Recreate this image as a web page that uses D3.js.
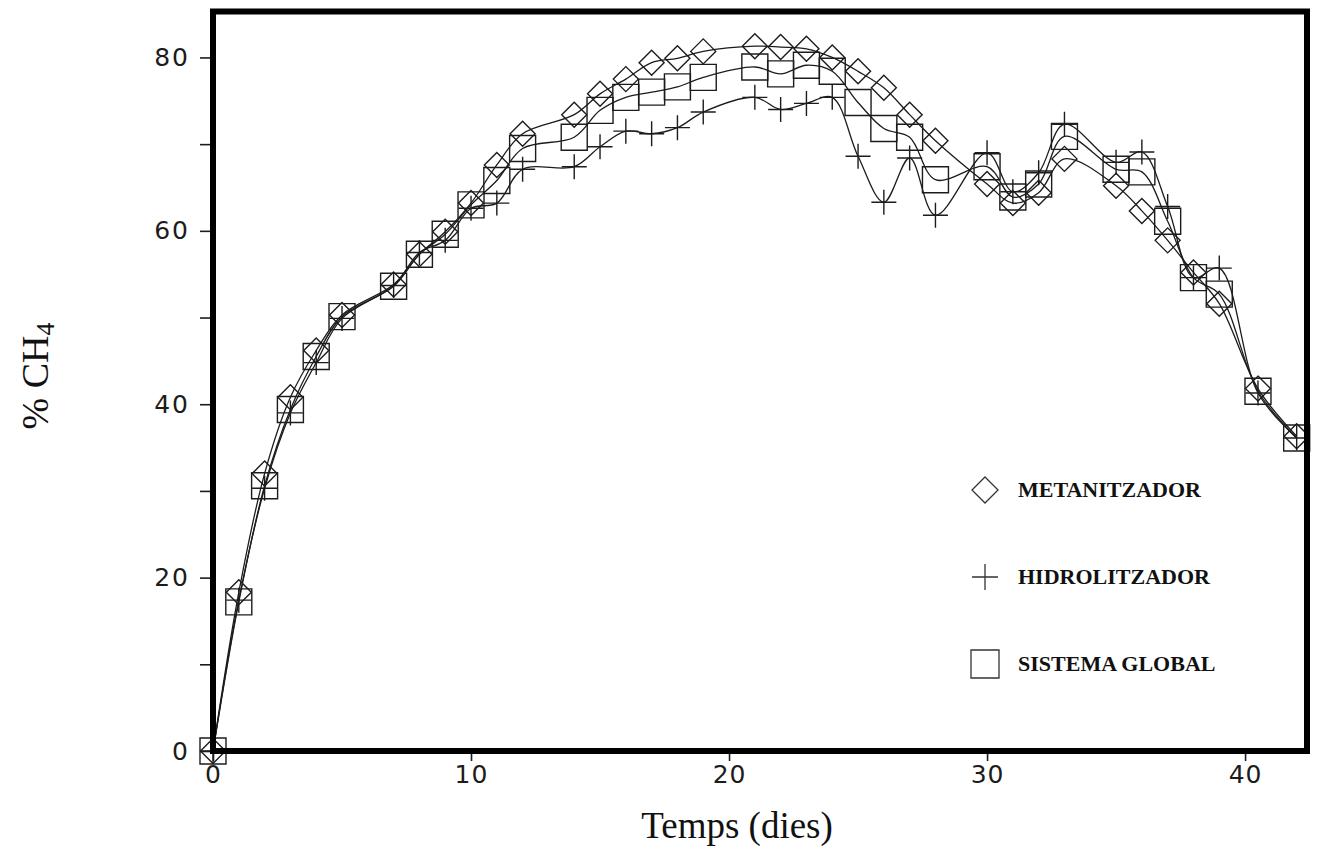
<!DOCTYPE html>
<html>
<head>
<meta charset="utf-8">
<script src="https://cdn.jsdelivr.net/npm/d3@7"></script>
<style>
  html, body { margin: 0; padding: 0; background: #ffffff; }
  svg { display: block; }
</style>
</head>
<body>
<svg id="chart" width="1322" height="856"></svg>
<script>
// ---- data ----
const days = [0, 1, 2, 3, 4, 5, 7, 8, 9, 10, 11, 12, 14, 15, 16, 17, 18, 19, 21, 22, 23, 24, 25, 26, 27, 28, 30, 31, 32, 33, 35, 36, 37, 38, 39, 40.5, 42];

const metanitzador = [0, 18.3, 32.0, 40.8, 46.2, 50.3, 53.8, 57.3, 59.9, 63.2, 67.6, 71.2, 73.4, 75.8, 77.5, 79.4, 79.9, 80.7, 81.3, 81.2, 81.0, 80.0, 78.4, 76.5, 73.4, 70.4, 65.4, 63.2, 64.4, 68.3, 65.2, 62.3, 58.9, 55.2, 51.6, 41.8, 36.3];

const hidrolitzador = [0, 17.4, 30.3, 39.0, 44.8, 49.9, 53.7, 57.5, 58.9, 62.6, 63.2, 67.1, 67.4, 69.7, 71.5, 71.2, 71.9, 73.7, 75.4, 74.0, 74.7, 75.4, 68.6, 63.3, 68.4, 61.8, 69.0, 64.5, 66.7, 72.3, 67.9, 69.1, 62.8, 54.6, 55.7, 41.3, 36.1];

const sistemaGlobal = [0, 17.2, 30.6, 39.4, 45.5, 50.1, 53.6, 57.3, 59.6, 63.0, 65.8, 69.5, 70.8, 73.9, 75.4, 76.0, 76.6, 77.7, 78.9, 78.1, 79.1, 78.4, 74.8, 71.8, 70.8, 65.9, 67.4, 63.9, 65.4, 70.9, 67.1, 66.8, 61.1, 54.6, 52.7, 41.5, 36.1];

const seriesNames = ["METANITZADOR", "HIDROLITZADOR", "SISTEMA GLOBAL"];
const seriesMarkers = ["diamond", "cross", "square"];
const xTickValues = [0, 10, 20, 30, 40];
const yTickValues = [0, 10, 20, 30, 40, 50, 60, 70, 80];
const yTickLabels = ["0", "", "20", "", "40", "", "60", "", "80"];
const xTitle = "Temps (dies)";

// ---- layout ----
const svg = d3.select("#chart");
const plotLeft = 213, plotRight = 1307, plotTop = 11.5, plotBottom = 751;

const x = d3.scaleLinear().domain([0, 42.4]).range([plotLeft, plotRight]);
const y = d3.scaleLinear().domain([0, 85.3]).range([plotBottom, plotTop]);

const ink = "#1c1c1c";

// ---- axes ----
const yAxis = d3.axisLeft(y)
  .tickValues(yTickValues)
  .tickSize(13)
  .tickPadding(10)
  .tickFormat((d, i) => yTickLabels[i]);

const gy = svg.append("g")
  .attr("transform", `translate(${plotLeft},0)`)
  .call(yAxis);
gy.select(".domain").remove();
gy.selectAll(".tick line").attr("stroke", ink).attr("stroke-width", 1.6);
gy.selectAll(".tick text")
  .attr("fill", ink)
  .style("font-family", "'DejaVu Sans', sans-serif")
  .style("font-size", "25px")
  .style("letter-spacing", "2px");

const xAxis = d3.axisBottom(x)
  .tickValues(xTickValues)
  .tickSize(10)
  .tickPadding(4)
  .tickFormat(d3.format("d"));

const gx = svg.append("g")
  .attr("transform", `translate(0,${plotBottom})`)
  .call(xAxis);
gx.select(".domain").remove();
gx.selectAll(".tick line").attr("stroke", ink).attr("stroke-width", 1.6);
gx.selectAll(".tick text")
  .attr("fill", ink)
  .style("font-family", "'DejaVu Sans', sans-serif")
  .style("font-size", "25px")
  .style("letter-spacing", "1px");

// ---- lines ----
const allSeries = [metanitzador, hidrolitzador, sistemaGlobal];
const line = d3.line()
  .x((d, i) => x(days[i]))
  .y(d => y(d))
  .curve(d3.curveCatmullRom.alpha(0.5));

const plot = svg.append("g");

allSeries.forEach(vals => {
  plot.append("path")
    .datum(vals)
    .attr("d", line)
    .attr("fill", "none")
    .attr("stroke", ink)
    .attr("stroke-width", 1.3);
});

// ---- markers ----
function markerPath(type, s) {
  if (type === "diamond") {
    return `M0,${-s}L${s},0L0,${s}L${-s},0Z`;
  } else if (type === "square") {
    return `M${-s},${-s}H${s}V${s}H${-s}Z`;
  } else {
    return `M${-s},0H${s}M0,${-s}V${s}`;
  }
}
const markerSize = { diamond: 12.5, square: 13, cross: 12.5 };

allSeries.forEach((vals, si) => {
  const type = seriesMarkers[si];
  plot.selectAll(null)
    .data(vals)
    .enter()
    .append("path")
    .attr("transform", (d, i) => `translate(${x(days[i])},${y(d)})`)
    .attr("d", markerPath(type, markerSize[type]))
    .attr("fill", "none")
    .attr("stroke", ink)
    .attr("stroke-width", 1.4);
});

// ---- frame ----
svg.append("rect")
  .attr("x", plotLeft)
  .attr("y", plotTop)
  .attr("width", plotRight - plotLeft)
  .attr("height", plotBottom - plotTop)
  .attr("fill", "none")
  .attr("stroke", "#000")
  .attr("stroke-width", 6);

// ---- legend ----
const legendY = [490, 577, 664];
const legend = svg.append("g");
seriesNames.forEach((name, i) => {
  const type = seriesMarkers[i];
  legend.append("path")
    .attr("transform", `translate(985,${legendY[i]})`)
    .attr("d", markerPath(type, type === "square" ? 14 : 13))
    .attr("fill", "none")
    .attr("stroke", "#333")
    .attr("stroke-width", 1.3);
  legend.append("text")
    .attr("x", 1018)
    .attr("y", legendY[i] + 7)
    .attr("fill", "#111")
    .style("font-family", "'Liberation Serif', 'Times New Roman', serif")
    .style("font-weight", "bold")
    .style("font-size", "22px")
    .text(name);
});

// ---- titles ----
svg.append("text")
  .attr("x", 737)
  .attr("y", 838)
  .attr("text-anchor", "middle")
  .attr("fill", "#111")
  .style("font-family", "'Liberation Serif', 'Times New Roman', serif")
  .style("font-size", "37px")
  .text(xTitle);

const yt = svg.append("text")
  .attr("transform", "translate(48,376) rotate(-90)")
  .attr("text-anchor", "middle")
  .attr("fill", "#111")
  .style("font-family", "'Liberation Serif', 'Times New Roman', serif")
  .style("font-size", "38px");
yt.append("tspan").text("% CH");
yt.append("tspan").attr("dy", "6").style("font-size", "26px").text("4");
</script>
</body>
</html>
